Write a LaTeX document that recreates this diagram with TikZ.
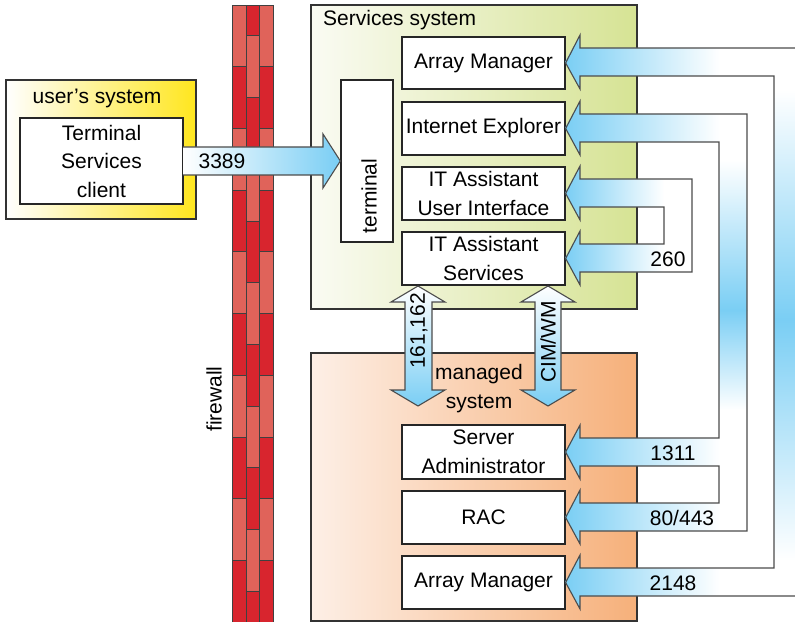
\documentclass[tikz,border=0pt]{standalone}
\usepackage{fontspec}
\setmainfont{Liberation Sans}
\definecolor{ablue}{RGB}{122,206,244}
\definecolor{svcL}{RGB}{250,251,243}
\definecolor{svcR}{RGB}{214,227,148}
\definecolor{mgdL}{RGB}{253,239,230}
\definecolor{mgdR}{RGB}{246,176,122}
\definecolor{usrR}{RGB}{255,230,30}
\definecolor{fwD}{RGB}{216,37,46}
\definecolor{fwL}{RGB}{224,99,90}
\begin{document}
\begin{tikzpicture}[x=1bp,y=-1bp,line join=miter,
  every node/.style={font=\fontsize{21bp}{28.5bp}\selectfont, inner sep=0pt, align=center},
  sysbox/.style={draw=black!80, line width=1.6bp, inner sep=0pt},
  wbox/.style={draw=black!85, line width=1.3bp, fill=white, inner sep=0pt},
  outl/.style={draw=black!70, line width=1.1bp},
  brick/.style={draw=black!75, line width=0.8bp}]
\useasboundingbox (0,0) rectangle (795,622);

% ---------- firewall ----------
\filldraw[brick, fill=fwD] (246,5) rectangle (259.5,35.8);
\foreach \k in {0,...,9}{
  \pgfmathsetmacro\ya{5+61.7*\k}
  \pgfmathsetmacro\yb{5+61.7*(\k+1)}
  \pgfmathsetmacro\yc{35.8+61.7*\k}
  \pgfmathsetmacro\yd{min(97.5+61.7*\k,622)}
  \pgfmathtruncatemacro\m{mod(\k,2)}
  \ifnum\m=0 \def\bc{fwL}\def\bm{fwL}\else\def\bc{fwD}\def\bm{fwD}\fi
  \filldraw[brick, fill=\bc] (232,\ya) rectangle (246,\yb);
  \filldraw[brick, fill=\bc] (259.5,\ya) rectangle (273,\yb);
  \filldraw[brick, fill=\bm] (246,\yc) rectangle (259.5,\yd);
}
\node[rotate=90] (fwlabel) at (214,399) {firewall};

% ---------- system boxes ----------
\node[sysbox, left color=white, right color=usrR, minimum width=190bp, minimum height=139bp] (usr) at (101,149.5) {};
\node (usrT) at (97,98) {user’s system};
\node[wbox, minimum width=163bp, minimum height=86bp] (tsc) at (101.5,161) {Terminal\\Services\\client};

\node[sysbox, left color=svcL, right color=svcR, minimum width=326bp, minimum height=304bp] (svc) at (474,157) {};
\node[anchor=west] (svcT) at (323,20) {Services system};

\node[sysbox, left color=mgdL, right color=mgdR, minimum width=326bp, minimum height=268bp] (mgd) at (474,487) {};
\node (mgdT) at (479,388.5) {managed\\system};

% ---------- inner boxes ----------
\node[wbox, minimum width=52bp, minimum height=162bp] (term) at (367,161) {};
\node[rotate=90] (termT) at (369,196) {terminal};

\node[wbox, minimum width=163bp, minimum height=52bp] (am1) at (483.5,63) {Array Manager};
\node[wbox, minimum width=163bp, minimum height=53bp] (ie) at (483.5,128.5) {Internet Explorer};
\node[wbox, minimum width=163bp, minimum height=53bp] (itaui) at (483.5,193.5) {IT Assistant\\User Interface};
\node[wbox, minimum width=163bp, minimum height=53bp] (itas) at (483.5,258.5) {IT Assistant\\Services};
\node[wbox, minimum width=163bp, minimum height=54bp] (sa) at (483.5,452) {Server\\Administrator};
\node[wbox, minimum width=163bp, minimum height=53bp] (rac) at (483.5,517.5) {RAC};
\node[wbox, minimum width=163bp, minimum height=53bp] (am2) at (483.5,582.5) {Array Manager};

% ---------- 3389 arrow ----------
\path[left color=white, right color=ablue] (183,147) -- (323,147) -- (323,134) -- (340,161) -- (323,188) -- (323,175) -- (183,175) -- cycle;
\draw[outl] (183,147) -- (323,147) -- (323,134) -- (term.west) -- (323,188) -- (323,175) -- (183,175);
\node (p3389) at (222,161) {3389};

% ---------- right-side arrow fills ----------
\foreach \c in {62,128,452,517,582}{
  \shade[left color=ablue, right color=white] (565,\c) -- (580,\c-27) -- (580,\c-14) -- (720,\c-14) -- (720,\c+14) -- (580,\c+14) -- (580,\c+27) -- cycle;
}
\foreach \c in {193,258}{
  \shade[left color=ablue, right color=white] (565,\c) -- (580,\c-27) -- (580,\c-14) -- (664,\c-14) -- (664,\c+14) -- (580,\c+14) -- (580,\c+27) -- cycle;
}
\shade[top color=white, bottom color=ablue] (774,90) rectangle (795,320);
\shade[top color=ablue, bottom color=white] (774,320) rectangle (795,560);
\shade[top color=white, bottom color=ablue] (719,160) rectangle (747,310);
\shade[top color=ablue, bottom color=white] (719,310) rectangle (747,410);

% ---------- right-side arrow outlines ----------
\draw[outl] (795,48) -- (580,48) -- (580,35) -- (am1.east) -- (580,89) -- (580,76) -- (774,76) -- (774,568) -- (580,568) -- (580,555) -- (am2.east) -- (580,609) -- (580,596) -- (795,596);
\draw[outl] (580,114) -- (747,114) -- (747,531) -- (580,531) -- (580,544) -- (rac.east) -- (580,490) -- (580,503) -- (719,503) -- (719,466) -- (580,466) -- (580,479) -- (sa.east) -- (580,425) -- (580,438) -- (719,438) -- (719,142) -- (580,142) -- (580,155) -- (ie.east) -- (580,101) -- cycle;
\draw[outl] (580,179) -- (692,179) -- (692,272) -- (580,272) -- (580,285) -- (itas.east) -- (580,231) -- (580,244) -- (664,244) -- (664,207) -- (580,207) -- (580,220) -- (itaui.east) -- (580,166) -- cycle;

\node (p260) at (668,259) {260};
\node (p1311) at (673,453) {1311};
\node (p80) at (682,518) {80/443};
\node (p2148) at (673,583) {2148};

% ---------- vertical double arrows ----------
\path[outl, top color=white, bottom color=ablue] (418,286) -- (445,302) -- (432,302) -- (432,390) -- (445,390) -- (418,406) -- (391,390) -- (405,390) -- (405,302) -- (391,302) -- cycle;
\path[outl, top color=white, bottom color=ablue] (548,286) -- (575,302) -- (561,302) -- (561,390) -- (575,390) -- (548,406) -- (521,390) -- (535,390) -- (535,302) -- (521,302) -- cycle;
\node[rotate=90] (p161) at (419,331) {161,162};
\node[rotate=90] (pcim) at (548,342) {CIM/WM};
\end{tikzpicture}
\end{document}
